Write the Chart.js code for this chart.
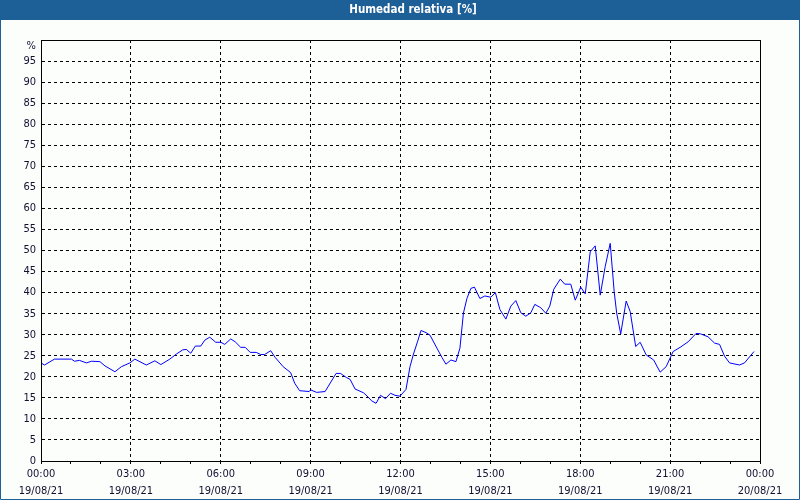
<!DOCTYPE html>
<html>
<head>
<meta charset="utf-8">
<script src="https://cdn.jsdelivr.net/npm/chart.js@4"></script>
<style>
html,body{margin:0;padding:0;background:#fcfefc;}
#wrap{width:800px;height:500px;position:relative;}
</style>
</head>
<body>
<div id="wrap"><canvas id="c" width="800" height="500"></canvas></div>
<script>
// Time of each reading, minutes after 00:00 on 19/08/21
const minutes = [0,7,27,61,67,77,91,101,118,128,148,161,178,188,211,228,240,258,271,284,291,300,309,320,328,338,350,360,368,380,389,400,409,419,431,440,448,460,469,485,500,508,518,537,540,552,569,591,600,612,619,629,646,656,662,671,680,690,700,709,719,731,739,746,754,761,771,779,793,803,811,821,831,839,846,853,861,868,879,889,901,910,919,931,941,951,961,971,981,989,1001,1011,1019,1027,1040,1049,1061,1070,1081,1090,1100,1110,1120,1130,1140,1148,1153,1161,1172,1180,1191,1200,1212,1227,1240,1252,1266,1280,1296,1312,1321,1336,1349,1359,1369,1379,1399,1409,1428];
// Relative humidity [%]
const humidity = [23.3,22.8,24.2,24.2,23.7,23.9,23.3,23.7,23.6,22.6,21.2,22.4,23.3,24.2,22.8,23.8,22.9,24.2,25.4,26.4,26.5,25.6,27.3,27.3,28.7,29.4,28.2,28.2,27.7,29.0,28.3,27.0,27.0,25.8,25.8,25.3,25.3,26.2,24.6,22.4,21.0,18.5,16.7,16.5,16.9,16.3,16.5,20.8,20.8,19.8,19.4,17.1,16.2,15.1,14.3,13.7,15.6,14.8,16.1,15.6,15.4,17.0,22.4,25.4,28.3,31.0,30.5,29.9,26.8,24.6,23.0,24.0,23.6,26.8,35.1,38.6,41.0,41.3,38.6,39.2,38.9,40.0,36.0,33.7,36.8,38.1,35.2,34.4,35.2,37.2,36.4,35.1,36.8,40.8,43.2,42.0,42.0,38.2,41.3,39.7,49.7,51.1,39.4,46.2,51.7,40.2,35.1,30.2,38.0,35.5,27.2,28.2,25.2,24.0,21.1,22.4,26.0,27.0,28.3,30.3,30.2,29.5,28.0,27.7,24.9,23.3,22.8,23.3,26.0];
// Labelled x ticks (every 3 hours)
const xTickMinutes = [0,180,360,540,720,900,1080,1260,1440];
const xTickTimes = ['00:00','03:00','06:00','09:00','12:00','15:00','18:00','21:00','00:00'];
const xTickDates = ['19/08/21','19/08/21','19/08/21','19/08/21','19/08/21','19/08/21','19/08/21','19/08/21','20/08/21'];
const yTicks = [0,5,10,15,20,25,30,35,40,45,50,55,60,65,70,75,80,85,90,95];
const titleText = 'Humedad relativa [%]';
const yUnit = '%';

const FONT = "'DejaVu Sans Condensed','DejaVu Sans',sans-serif";
const TXT = '#101030';

const frame = {
  id: 'frame',
  beforeDraw(chart) {
    const ctx = chart.ctx;
    ctx.save();
    ctx.fillStyle = '#fcfefc';
    ctx.fillRect(0, 0, 800, 500);
    ctx.restore();
  },
  afterDraw(chart) {
    const ctx = chart.ctx;
    const a = chart.chartArea;
    ctx.save();
    // plot box
    ctx.strokeStyle = '#000';
    ctx.lineWidth = 1;
    ctx.setLineDash([]);
    ctx.strokeRect(Math.round(a.left) + 0.5, Math.round(a.top) + 0.5,
      Math.round(a.right - a.left), Math.round(a.bottom - a.top));
    // title bar
    ctx.fillStyle = '#1d5f97';
    ctx.fillRect(0, 0, 800, 20);
    ctx.fillStyle = '#ffffff';
    ctx.font = "bold 11.5px " + FONT;
    ctx.textAlign = 'center';
    ctx.textBaseline = 'middle';
    ctx.fillText(titleText, 413, 10.5);
    // outer border
    ctx.strokeStyle = '#1d5f97';
    ctx.beginPath();
    ctx.moveTo(0.5, 20); ctx.lineTo(0.5, 499.5); ctx.lineTo(799.5, 499.5); ctx.lineTo(799.5, 20);
    ctx.stroke();
    // unit label
    ctx.fillStyle = TXT;
    ctx.font = "11px " + FONT;
    ctx.textAlign = 'right';
    ctx.textBaseline = 'middle';
    ctx.fillText(yUnit, 36, 46);
    ctx.restore();
  }
};

new Chart(document.getElementById('c'), {
  type: 'line',
  data: {
    datasets: [{
      data: minutes.map((m, i) => ({x: m, y: humidity[i]})),
      borderColor: '#0000ff',
      borderWidth: 1,
      pointRadius: 0,
      tension: 0,
      fill: false
    }]
  },
  options: {
    responsive: false,
    animation: false,
    devicePixelRatio: 1,
    layout: {padding: {top: 40, left: 0, right: 40, bottom: 0}},
    plugins: {legend: {display: false}, tooltip: {enabled: false}, title: {display: false}},
    scales: {
      x: {
        type: 'linear',
        min: 0, max: 1440,
        afterFit: s => { s.height = 39; },
        afterBuildTicks: s => { s.ticks = Array.from({length: 25}, (_, i) => ({value: i * 60})); },
        ticks: {
          autoSkip: false, maxRotation: 0, minRotation: 0,
          padding: 2,
          color: TXT,
          font: {family: FONT, size: 11, lineHeight: '17px'},
          callback: v => {
            const k = xTickMinutes.indexOf(v);
            return k >= 0 ? [xTickTimes[k], xTickDates[k]] : '';
          }
        },
        grid: {
          color: c => (c.tick && c.tick.value % 180 === 0 && c.tick.value > 0 && c.tick.value < 1440) ? '#000' : 'rgba(0,0,0,0)',
          lineWidth: 1,
          drawTicks: true,
          tickLength: 3,
          tickColor: '#000',
          tickWidth: 1
        },
        border: {display: true, color: '#000', width: 1, dash: [3, 3]}
      },
      y: {
        type: 'linear',
        min: 0, max: 100,
        afterFit: s => { s.width = 41; },
        afterBuildTicks: s => { s.ticks = yTicks.concat([100]).map(v => ({value: v})); },
        ticks: {
          autoSkip: false,
          padding: 5,
          color: TXT,
          font: {family: FONT, size: 11},
          callback: v => (yTicks.indexOf(v) >= 0 ? String(v) : '')
        },
        grid: {
          color: c => (c.tick && c.tick.value > 0 && c.tick.value < 100) ? '#000' : 'rgba(0,0,0,0)',
          lineWidth: 1,
          drawTicks: false
        },
        border: {display: true, color: '#000', width: 1, dash: [3, 3]}
      }
    }
  },
  plugins: [frame]
});
</script>
</body>
</html>
